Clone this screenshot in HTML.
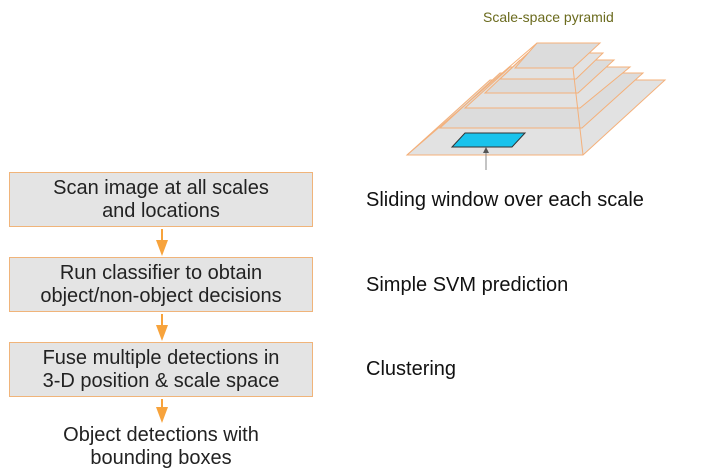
<!DOCTYPE html>
<html><head><style>
body{margin:0;background:#fff;width:704px;height:474px;overflow:hidden;font-family:"Liberation Sans",Arial,sans-serif;}
.box{position:absolute;left:9px;width:304px;height:55px;background:#e4e4e4;border:1.5px solid #f0b47a;box-sizing:border-box;text-align:center;font-size:20px;line-height:23px;color:#222;padding-top:4px;}
.t{position:absolute;font-size:20px;color:#111;}
</style></head><body>
<svg width="704" height="474" style="position:absolute;left:0;top:0">
<defs><marker id="a" markerWidth="10" markerHeight="10" refX="5" refY="9" orient="auto" markerUnits="userSpaceOnUse"><path d="M0,0 L10,0 L5,12 Z" fill="#f7a33c"/></marker></defs>
<g stroke="#f7a33c" stroke-width="2" fill="#f7a33c">
<line x1="162" y1="229" x2="162" y2="244"/><path d="M156,240 L168,240 L162,256 Z" stroke="none"/>
<line x1="162" y1="314" x2="162" y2="329"/><path d="M156,325 L168,325 L162,341 Z" stroke="none"/>
<line x1="162" y1="399" x2="162" y2="411"/><path d="M156,407 L168,407 L162,423 Z" stroke="none"/>
</g>
<g stroke="#f4b07a" stroke-width="1" fill="#e2e2e2">
<polygon points="407,155 583,155 665,80 490,80"/>
<polygon points="440,128 582,128 643,73 500,73" fill="#dcdcdc"/>
<polygon points="465,108 580,108 630,67 510,67"/>
<polygon points="485,93 578,93 614,60 520,60" fill="#dcdcdc"/>
<polygon points="500,79 576,79 603,53 528,53"/>
<polygon points="515,68 573,68 600,43 537,43" fill="#dcdcdc"/>
<line x1="407" y1="155" x2="537" y2="43"/>
<line x1="583" y1="155" x2="573" y2="68"/>
</g>
<polygon points="452,147 512,147 525,133 465,133" fill="#19c3ec" stroke="#333" stroke-width="1"/>
<line x1="486" y1="170" x2="486" y2="150" stroke="#888" stroke-width="1"/>
<path d="M483,153 L486,147 L489,153 Z" fill="#555"/>
</svg>
<div class="t" style="left:483px;top:9px;font-size:14px;color:#6b6b1e;">Scale-space pyramid</div>
<div class="box" style="top:172px;">Scan image at all scales<br>and locations</div>
<div class="box" style="top:257px;">Run classifier to obtain<br>object/non-object decisions</div>
<div class="box" style="top:342px;">Fuse multiple detections in<br>3-D position &amp; scale space</div>
<div class="t" style="left:9px;width:304px;text-align:center;top:424px;line-height:23px;color:#222;">Object detections with<br>bounding boxes</div>
<div class="t" style="left:366px;top:189px;">Sliding window over each scale</div>
<div class="t" style="left:366px;top:274px;">Simple SVM prediction</div>
<div class="t" style="left:366px;top:358px;">Clustering</div>
</body></html>
